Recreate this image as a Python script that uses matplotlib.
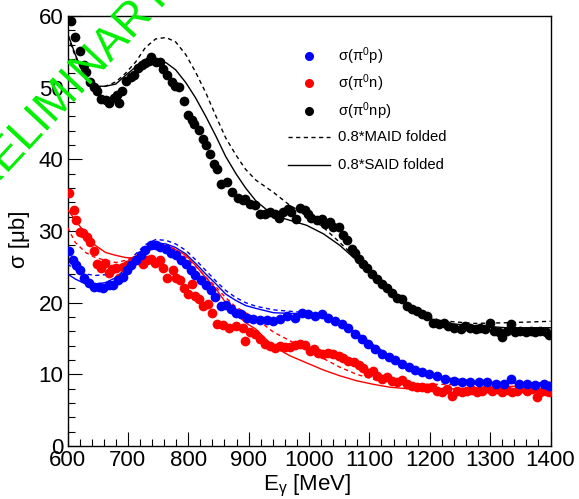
"""
plot.py

pi0 photoproduction cross sections on the deuteron (quasi-free proton,
neutron and the inclusive np channel) compared with folded MAID / SAID.
"""

import matplotlib
matplotlib.use("Agg")
import matplotlib.pyplot as plt
from matplotlib.ticker import MultipleLocator

# ─── Data ──────────────────────────────────────────────────────────────────────
E_NP = [605, 613, 620, 627, 631, 638, 644, 649, 656, 663, 669, 677, 682, 685,
        691, 697, 705, 710, 716, 723, 729, 735, 739, 746, 753, 758, 764, 773,
        778, 785, 793, 799, 806, 810, 817, 824, 829, 836, 843, 848, 854, 865,
        873, 882, 890, 894, 902, 910, 919, 927, 935, 944, 951, 957, 966, 971,
        978, 985, 993, 999, 1004, 1013, 1021, 1027, 1034, 1040, 1049, 1057,
        1063, 1071, 1076, 1083, 1090, 1096, 1104, 1112, 1121, 1129, 1137,
        1146, 1154, 1162, 1170, 1179, 1187, 1195, 1205, 1215, 1223, 1231,
        1240, 1251, 1259, 1267, 1276, 1284, 1292, 1299, 1306, 1314, 1320,
        1328, 1335, 1342, 1350, 1359, 1367, 1375, 1383, 1392, 1397]
SIG_NP = [59.3, 57.1, 55.1, 53.2, 52.2, 50.8, 50.1, 49.5, 48.4, 48.3, 47.8,
          48.5, 49.0, 47.9, 49.6, 51.0, 51.5, 51.8, 52.7, 53.1, 53.5, 53.7,
          54.3, 53.6, 53.6, 52.6, 51.8, 50.8, 50.3, 50.1, 48.2, 46.2, 45.5,
          45.0, 44.1, 42.9, 42.0, 40.8, 39.4, 38.7, 36.5, 36.8, 35.5, 34.6,
          34.3, 34.5, 33.8, 33.6, 32.4, 32.4, 32.6, 32.4, 31.8, 32.6, 33.1,
          32.6, 31.7, 33.2, 32.9, 32.4, 31.8, 31.5, 31.7, 31.0, 31.2, 30.5,
          30.5, 29.4, 28.7, 27.5, 27.0, 26.1, 25.4, 24.9, 24.0, 23.3, 22.6,
          22.1, 21.4, 20.7, 20.5, 19.6, 19.1, 18.9, 18.4, 18.2, 17.2, 17.0,
          17.2, 16.8, 16.5, 16.3, 16.8, 16.5, 16.3, 16.5, 16.3, 17.1, 16.1,
          15.9, 15.2, 16.1, 17.0, 15.9, 16.1, 15.9, 16.1, 15.9, 16.1, 15.9,
          15.5]

E_P = [603, 609, 614, 620, 627, 635, 644, 652, 659, 668, 676, 684, 692, 699,
       706, 714, 721, 729, 738, 746, 754, 763, 771, 779, 788, 796, 804, 812,
       821, 829, 837, 844, 854, 862, 871, 879, 887, 897, 908, 919, 930, 941,
       952, 963, 977, 988, 999, 1010, 1021, 1032, 1043, 1054, 1065, 1076,
       1087, 1098, 1110, 1121, 1132, 1143, 1154, 1165, 1176, 1187, 1198,
       1212, 1226, 1240, 1254, 1267, 1281, 1295, 1309, 1323, 1335, 1347,
       1361, 1375, 1389, 1397]
SIG_P = [27.2, 26.0, 25.2, 24.5, 23.5, 22.8, 22.2, 22.2, 22.0, 22.4, 22.5,
         23.1, 23.6, 24.5, 25.2, 26.0, 26.6, 27.3, 28.0, 28.1, 27.8, 27.5,
         27.0, 26.6, 26.0, 25.4, 24.6, 23.9, 23.2, 22.4, 21.7, 20.8, 19.6,
         19.7, 19.1, 18.6, 18.4, 17.9, 17.7, 17.6, 17.6, 17.5, 17.7, 18.2,
         17.9, 18.6, 18.4, 18.2, 18.4, 17.9, 17.5, 17.0, 16.5, 15.6, 14.9,
         14.2, 13.5, 12.9, 12.4, 12.0, 11.5, 11.0, 10.6, 10.3, 10.0, 9.7, 9.3,
         9.1, 9.0, 8.9, 8.9, 8.9, 8.7, 8.6, 9.3, 8.6, 8.6, 8.5, 8.7, 8.4]

E_N = [603, 610, 614, 620, 625, 633, 638, 644, 649, 655, 662, 669, 674, 681,
       685, 692, 699, 705, 712, 718, 725, 731, 738, 745, 753, 758, 765, 774,
       780, 786, 793, 800, 806, 812, 818, 825, 832, 840, 848, 857, 868, 879,
       890, 894, 902, 910, 919, 927, 935, 944, 952, 960, 968, 977, 985, 993,
       1002, 1008, 1015, 1024, 1032, 1040, 1049, 1057, 1065, 1074, 1082,
       1090, 1098, 1106, 1112, 1121, 1129, 1137, 1146, 1154, 1162, 1170,
       1179, 1187, 1195, 1204, 1212, 1220, 1229, 1237, 1245, 1254, 1262,
       1270, 1278, 1287, 1295, 1303, 1311, 1320, 1328, 1336, 1345, 1353,
       1361, 1370, 1377, 1383, 1392, 1397]
SIG_N = [35.3, 32.9, 31.6, 29.8, 29.7, 29.1, 28.4, 27.2, 25.4, 24.8, 25.6,
         24.1, 24.7, 24.8, 23.4, 25.0, 25.2, 25.6, 25.9, 26.0, 25.4, 25.9,
         26.1, 25.6, 25.9, 24.9, 23.5, 24.5, 23.5, 23.1, 22.1, 21.2, 22.6,
         21.0, 20.5, 19.6, 19.8, 18.6, 17.0, 16.9, 16.5, 16.8, 16.5, 14.7,
         15.9, 15.6, 14.9, 14.2, 14.0, 13.7, 14.0, 13.8, 13.8, 14.1, 14.3,
         14.1, 13.3, 13.5, 13.0, 12.8, 13.0, 12.8, 12.6, 12.3, 11.9, 11.7,
         11.3, 10.9, 10.2, 10.5, 9.7, 9.3, 9.6, 9.1, 8.9, 9.2, 8.7, 8.4, 8.3,
         8.2, 8.1, 8.2, 7.7, 7.6, 7.9, 7.0, 7.7, 7.6, 7.7, 7.8, 7.5, 7.7, 8.1,
         7.7, 7.9, 7.6, 7.8, 7.5, 7.7, 8.1, 7.7, 7.9, 6.8, 7.6, 7.7, 7.5]

# folded model curves (0.8 * MAID / SAID)
E_MOD = [600, 613, 630, 646, 663, 680, 696, 713, 729, 746, 763, 779, 796,
         812, 829, 846, 862, 879, 895, 912, 941, 968, 996, 1024, 1051, 1079,
         1107, 1134, 1162, 1190, 1217, 1272, 1328, 1400]
SAID_NP = [57.6, 54.6, 51.2, 50.2, 50.2, 50.5, 51.7, 52.9, 53.7, 53.8, 53.5,
           52.5, 50.7, 48.6, 46.0, 43.2, 40.4, 38.0, 36.0, 34.2, 32.2, 31.5,
           30.8, 29.6, 28.0, 25.9, 23.5, 21.7, 19.8, 18.2, 17.2, 16.8, 16.5,
           16.5]
MAID_NP = [57.2, 54.4, 51.2, 50.0, 50.2, 50.8, 52.0, 53.6, 55.6, 56.8, 57.0,
           56.4, 54.6, 52.2, 49.3, 46.0, 43.0, 40.6, 38.6, 37.1, 35.4, 33.6,
           32.2, 30.5, 28.4, 26.1, 23.8, 21.9, 20.0, 18.4, 17.5, 17.1, 17.2,
           17.4]
SAID_P = [24.0, 23.3, 22.6, 22.6, 22.8, 23.5, 24.7, 26.1, 27.5, 28.3, 28.2,
          27.7, 26.8, 25.5, 24.0, 22.6, 21.2, 20.3, 19.6, 19.2, 18.6, 18.5,
          18.5, 18.2, 17.3, 15.6, 13.9, 12.4, 11.1, 10.1, 9.5, 9.0, 8.8, 8.6]
MAID_P = [25.4, 24.6, 24.0, 23.8, 23.9, 24.4, 25.5, 26.8, 28.1, 28.8, 28.7,
          28.2, 27.3, 26.0, 24.5, 23.0, 21.7, 20.7, 20.0, 19.5, 19.0, 18.8,
          18.6, 18.3, 17.4, 15.8, 14.1, 12.6, 11.3, 10.3, 9.6, 9.1, 8.9, 8.8]
SAID_N = [33.0, 31.5, 29.6, 28.0, 27.0, 26.6, 26.3, 26.2, 26.8, 28.0, 28.0,
          27.4, 26.6, 25.2, 23.5, 21.9, 20.0, 18.4, 17.2, 16.3, 13.9, 12.6,
          11.6, 10.6, 9.8, 9.1, 8.6, 8.2, 8.0, 7.9, 7.9, 8.1, 8.3, 8.5]
MAID_N = [30.5, 28.4, 27.0, 26.3, 25.9, 25.6, 25.9, 26.5, 27.4, 27.9, 27.9,
          27.5, 26.3, 25.1, 23.6, 22.2, 20.7, 19.4, 18.6, 17.8, 15.9, 14.7,
          13.4, 12.2, 11.0, 10.0, 9.3, 8.9, 8.7, 8.6, 8.6, 8.6, 8.7, 8.9]

LEGEND_LABELS = ["σ(π$^{0}$p)", "σ(π$^{0}$n)", "σ(π$^{0}$np)",
                 "0.8*MAID folded", "0.8*SAID folded"]
# ────────────────────────────────────────────────────────────────────────────────

BLUE, RED, BLACK = "#0000ff", "#ff0000", "#000000"
FONT = "Liberation Sans"

plt.rcParams["font.family"] = [FONT, "DejaVu Sans"]
plt.rcParams["mathtext.fontset"] = "custom"
plt.rcParams["mathtext.rm"] = FONT
plt.rcParams["mathtext.it"] = FONT


def draw_models(ax):
    for said, maid, col in [(SAID_NP, MAID_NP, BLACK),
                            (SAID_P, MAID_P, BLUE),
                            (SAID_N, MAID_N, RED)]:
        ax.plot(E_MOD, maid, color=col, lw=1.0, ls=(0, (3, 2.5)), zorder=3)
        ax.plot(E_MOD, said, color=col, lw=1.0, zorder=3)


def draw_legend(ax):
    tr = ax.transAxes
    rows = [0.907, 0.8435, 0.779, 0.718, 0.6535]
    for y, col in zip(rows[:3], [BLUE, RED, BLACK]):
        ax.plot([0.5006], [y], "o", color=col, ms=5.5, mec=col,
                transform=tr, clip_on=False)
    ax.plot([0.457, 0.5435], [rows[3]] * 2, color=BLACK, lw=1.0,
            ls=(0, (3, 2.5)), transform=tr)
    ax.plot([0.457, 0.5435], [rows[4]] * 2, color=BLACK, lw=1.0, transform=tr)
    for y, lab in zip(rows, LEGEND_LABELS):
        ax.text(0.5607, y, lab, transform=tr, fontsize=10.7,
                va="center", ha="left")


def main():
    fig = plt.figure(figsize=(5.79, 4.99), dpi=100)
    ax = fig.add_axes([67.5 / 579, 53 / 499, 483 / 579, 430 / 499])

    draw_models(ax)
    ms = 7
    ax.plot(E_NP, SIG_NP, "o", color=BLACK, ms=ms, mew=0, zorder=4)
    ax.plot(E_N, SIG_N, "o", color=RED, ms=ms, mew=0, zorder=4)
    ax.plot(E_P, SIG_P, "o", color=BLUE, ms=ms, mew=0, zorder=5)

    ax.set_xlim(600, 1400)
    ax.set_ylim(0, 60)
    ax.xaxis.set_major_locator(MultipleLocator(100))
    ax.xaxis.set_minor_locator(MultipleLocator(20))
    ax.yaxis.set_major_locator(MultipleLocator(10))
    ax.yaxis.set_minor_locator(MultipleLocator(2))
    ax.tick_params(which="both", direction="in", top=False, right=False,
                   width=0.8, labelsize=16, pad=3)
    ax.tick_params(which="major", length=10)
    ax.tick_params(which="minor", length=5)
    for sp in ax.spines.values():
        sp.set_linewidth(1.0)

    ax.set_xlabel("E$_{γ}$ [MeV]", fontsize=16)
    ax.xaxis.set_label_coords(0.496, -0.062)
    ax.set_ylabel("σ [μb]", fontsize=16)
    ax.yaxis.set_label_coords(-0.077, 0.48)

    draw_legend(ax)

    # watermark, partly outside the canvas like the original
    fig.text(-0.065, 0.5635, "PRELIMINARY", color="#00f000", fontsize=33,
             rotation=47, rotation_mode="anchor", ha="left", va="baseline",
             zorder=10)

    fig.savefig("out.png", dpi=100)


if __name__ == "__main__":
    main()
